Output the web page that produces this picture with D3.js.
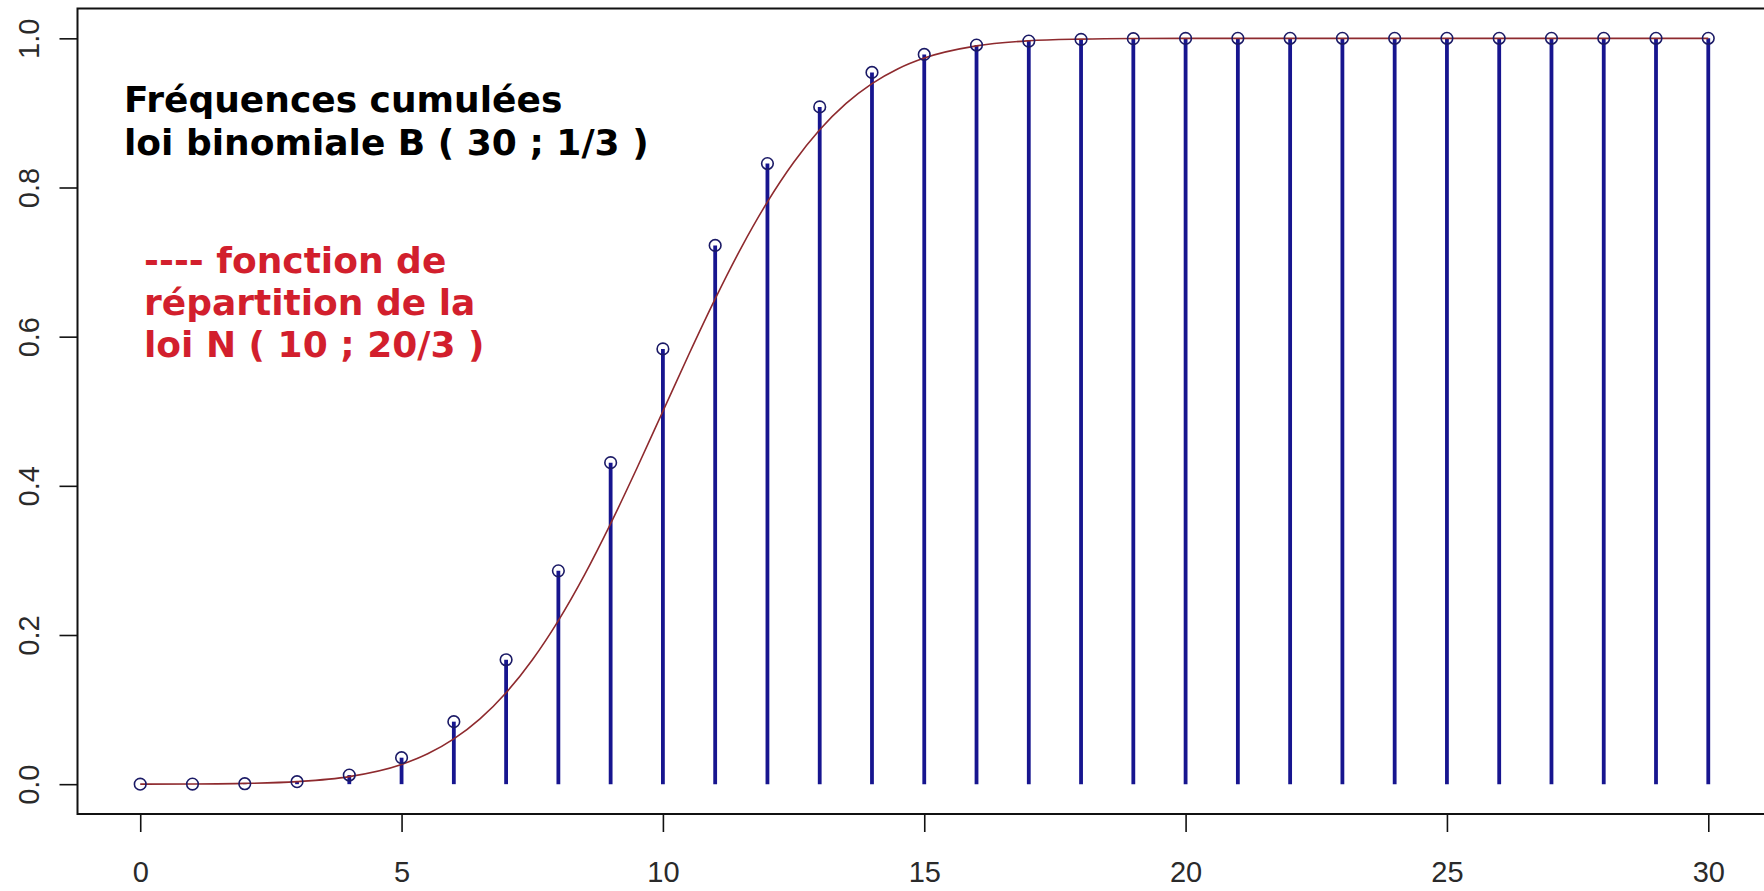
<!DOCTYPE html>
<html>
<head>
<meta charset="utf-8">
<script src="https://cdn.jsdelivr.net/npm/d3@7"></script>
<style>
  html, body { margin: 0; padding: 0; background: #fff; }
  svg { display: block; }
</style>
</head>
<body>
<svg id="chart" width="1764" height="891"></svg>
<script>
// ---- data ----
const kValues = [0,1,2,3,4,5,6,7,8,9,10,11,12,13,14,15,16,17,18,19,20,21,22,23,24,25,26,27,28,29,30];
const cumFreq = [0.00001,0.00008,0.0006,0.0033,0.0122,0.0355,0.0838,0.1668,0.2860,0.4311,
                 0.5836,0.7223,0.8321,0.9081,0.9543,0.9784,0.9910,0.9963,0.9986,0.9995,
                 0.9999,1,1,1,1,1,1,1,1,1,1];
const normX = [0,1,2,3,4,5,5.5,6,6.5,7,7.5,8,8.5,9,9.5,10,10.5,11,11.5,12,12.5,13,13.5,14,14.5,15,16,17,18,19,20,22,25,30];
const normY = [0.00005,0.00025,0.001,0.0034,0.0101,0.0264,0.0407,0.0607,0.0876,0.1226,0.1665,0.2193,0.2806,0.3493,0.4232,0.5,
               0.5768,0.6507,0.7194,0.7807,0.8335,0.8774,0.9124,0.9393,0.9593,0.9736,0.9899,0.9967,0.999,0.9998,0.99995,1,1,1];
const xTicks = [0,5,10,15,20,25,30];
const yTicks = [0,0.2,0.4,0.6,0.8,1.0];
const yTickLabels = ["0.0","0.2","0.4","0.6","0.8","1.0"];
const titleLines = ["Fréquences cumulées", "loi binomiale B ( 30 ; 1/3 )"];
const noteLines = ["---- fonction de", "répartition de la", "loi N ( 10 ; 20/3 )"];

// ---- layout ----
const svg = d3.select("#chart");
const x = d3.scaleLinear().domain([-1.2, 31.2]).range([77.5, 1771]);
const y = d3.scaleLinear().domain([-0.04, 1.04]).range([814, 8.5]);

const stemColor = "#17158f";
const circleColor = "#1b1a66";
const curveColor = "#8e2a2e";

// stems
svg.append("g").selectAll("line").data(kValues).join("line")
  .attr("x1", d => x(d)).attr("x2", d => x(d))
  .attr("y1", y(0)).attr("y2", (d, i) => y(cumFreq[i]))
  .attr("stroke", stemColor).attr("stroke-width", 3.8);

// normal CDF curve
const line = d3.line().x((d, i) => x(normX[i])).y((d, i) => y(normY[i])).curve(d3.curveMonotoneX);
svg.append("path").datum(normX).attr("d", line)
  .attr("fill", "none").attr("stroke", curveColor).attr("stroke-width", 1.6);

// points
svg.append("g").selectAll("circle").data(kValues).join("circle")
  .attr("cx", d => x(d)).attr("cy", (d, i) => y(cumFreq[i]))
  .attr("r", 5.8).attr("fill", "none")
  .attr("stroke", circleColor).attr("stroke-width", 1.6);

// box
svg.append("rect").attr("x", x.range()[0]).attr("y", y.range()[1])
  .attr("width", x.range()[1] - x.range()[0]).attr("height", y.range()[0] - y.range()[1])
  .attr("fill", "none").attr("stroke", "#111").attr("stroke-width", 2);

// axes
const axisFont = "'Liberation Sans', Arial, sans-serif";
const xAxis = d3.axisBottom(x).tickValues(xTicks).tickFormat(d3.format("d")).tickSize(18).tickPadding(29);
const gx = svg.append("g").attr("transform", `translate(0,${y.range()[0]})`).call(xAxis);
gx.select(".domain").remove();
gx.selectAll(".tick line").attr("stroke", "#111").attr("stroke-width", 1.6);
gx.selectAll(".tick text").attr("font-family", axisFont)
  .attr("font-size", 29).attr("fill", "#2a2a2a");

const yAxis = d3.axisLeft(y).tickValues(yTicks).tickFormat((d, i) => yTickLabels[i]).tickSize(18).tickPadding(0);
const gy = svg.append("g").attr("transform", `translate(${x.range()[0]},0)`).call(yAxis);
gy.select(".domain").remove();
gy.selectAll(".tick line").attr("stroke", "#111").attr("stroke-width", 1.6);
gy.selectAll(".tick text")
  .attr("font-family", axisFont)
  .attr("font-size", 29).attr("fill", "#2a2a2a")
  .attr("x", null)
  .attr("text-anchor", "middle")
  .attr("transform", "translate(-49,0) rotate(-90)")
  .attr("y", 0).attr("dy", "0.35em");

// annotations
const textFont = "'DejaVu Sans', sans-serif";
svg.append("g").selectAll("text").data(titleLines).join("text")
  .attr("x", 124).attr("y", (d, i) => 112 + i * 43)
  .attr("font-family", textFont).attr("font-weight", "bold")
  .attr("font-size", 36).attr("fill", "#000").text(d => d);

svg.append("g").selectAll("text").data(noteLines).join("text")
  .attr("x", 144).attr("y", (d, i) => 273 + i * 42)
  .attr("font-family", textFont).attr("font-weight", "bold")
  .attr("font-size", 36).attr("fill", "#d21f2d").text(d => d);
</script>
</body>
</html>
